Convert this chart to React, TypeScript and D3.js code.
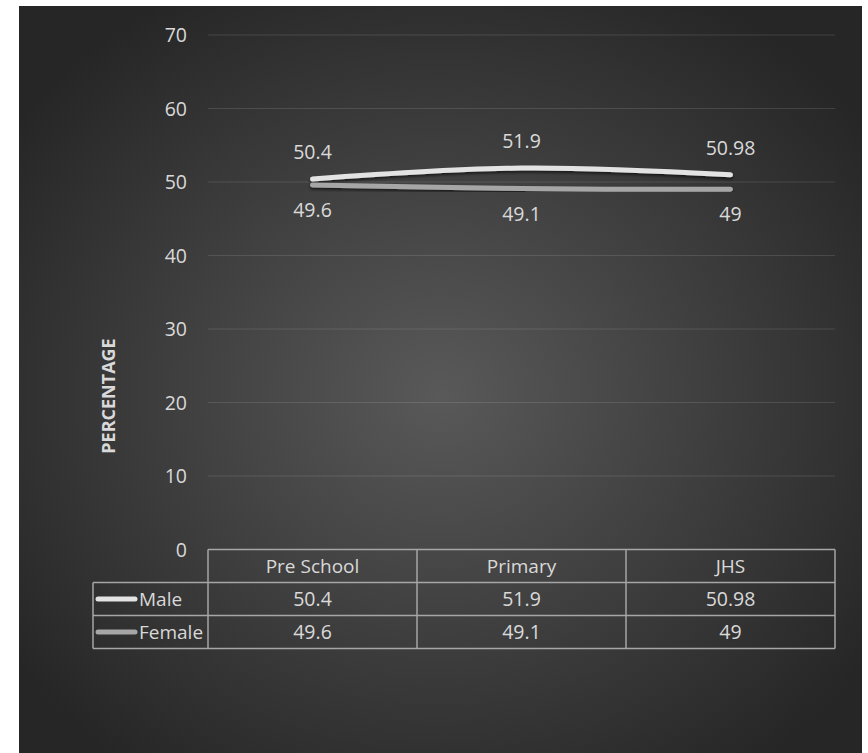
import React from "react";
import * as d3 from "d3";

const categories = ["Pre School", "Primary", "JHS"];
const maleValues = [50.4, 51.9, 50.98];
const femaleValues = [49.6, 49.1, 49];
const yTicks = [0, 10, 20, 30, 40, 50, 60, 70];
const seriesNames = ["Male", "Female"];
const seriesColors = ["#e3e3e3", "#a6a6a6"];

const W = 868;
const H = 753;
const plotL = 208;
const plotR = 835;
const plotT = 35;
const plotB = 549.5;
const rowH = 33;
const tableL = 93;
const font = "'Open Sans', sans-serif";
const textColor = "#d9d9d9";

export default function App() {
  const x = d3.scaleBand<string>().domain(categories).range([plotL, plotR]);
  const y = d3.scaleLinear().domain([0, 70]).range([plotB, plotT]);
  const line = d3
    .line<number>()
    .x((_, i) => (x(categories[i]) as number) + x.bandwidth() / 2)
    .y((d) => y(d))
    .curve(d3.curveCatmullRom.alpha(0.5));
  const series = [maleValues, femaleValues];
  const cx = (i: number) => (x(categories[i]) as number) + x.bandwidth() / 2;

  return (
    <svg
      width={W}
      height={H}
      style={{ position: "absolute", left: 0, top: 0, background: "#fff" }}
    >
      <defs>
        <radialGradient id="bg" cx="50%" cy="52%" r="62%">
          <stop offset="0%" stopColor="#595959" />
          <stop offset="100%" stopColor="#262626" />
        </radialGradient>
        <filter id="sh" x="-10%" y="-50%" width="120%" height="200%">
          <feDropShadow dx="0" dy="2" stdDeviation="1.5" floodColor="#000" floodOpacity="0.6" />
        </filter>
      </defs>
      <rect x={19} y={6} width={843} height={747} fill="url(#bg)" />

      {yTicks.map((t) => (
        <g key={t}>
          {t > 0 && (
            <line x1={plotL} x2={plotR} y1={y(t)} y2={y(t)} stroke="#d9d9d9" strokeOpacity={0.15} strokeWidth={1} />
          )}
          <text x={187} y={y(t)} dy="0.36em" textAnchor="end" fill={textColor} fontFamily={font} fontSize={19.5}>
            {t}
          </text>
        </g>
      ))}

      <text
        transform={`translate(115,396) rotate(-90)`}
        textAnchor="middle"
        fill={textColor}
        fontFamily={font}
        fontSize={18}
        fontWeight="bold"
      >
        PERCENTAGE
      </text>

      {series.map((vals, si) => (
        <path
          key={si}
          d={line(vals) as string}
          fill="none"
          stroke={seriesColors[si]}
          strokeWidth={5}
          strokeLinecap="round"
          filter="url(#sh)"
        />
      ))}

      {maleValues.map((v, i) => (
        <text key={"m" + i} x={cx(i)} y={y(v) - 20} textAnchor="middle" fill={textColor} fontFamily={font} fontSize={19.5}>
          {v}
        </text>
      ))}
      {femaleValues.map((v, i) => (
        <text key={"f" + i} x={cx(i)} y={y(v) + 32} textAnchor="middle" fill={textColor} fontFamily={font} fontSize={19.5}>
          {v}
        </text>
      ))}

      {/* data table */}
      <g stroke="#a6a6a6" strokeWidth={1.5} fill="none">
        <line x1={plotL} x2={plotR} y1={plotB} y2={plotB} />
        <line x1={tableL} x2={plotR} y1={plotB + rowH} y2={plotB + rowH} />
        <line x1={tableL} x2={plotR} y1={plotB + 2 * rowH} y2={plotB + 2 * rowH} />
        <line x1={tableL} x2={plotR} y1={plotB + 3 * rowH} y2={plotB + 3 * rowH} />
        <line x1={tableL} x2={tableL} y1={plotB + rowH} y2={plotB + 3 * rowH} />
        {categories.map((c) => (
          <line key={c} x1={x(c)} x2={x(c)} y1={plotB} y2={plotB + 3 * rowH} />
        ))}
        <line x1={plotR} x2={plotR} y1={plotB} y2={plotB + 3 * rowH} />
      </g>
      {categories.map((c, i) => (
        <text key={c} x={cx(i)} y={plotB + rowH / 2} dy="0.36em" textAnchor="middle" fill={textColor} fontFamily={font} fontSize={19}>
          {c}
        </text>
      ))}
      {series.map((vals, si) => (
        <g key={"row" + si}>
          <line
            x1={98}
            x2={135}
            y1={plotB + rowH * (si + 1.5)}
            y2={plotB + rowH * (si + 1.5)}
            stroke={seriesColors[si]}
            strokeWidth={5}
            strokeLinecap="round"
          />
          <text x={139} y={plotB + rowH * (si + 1.5)} dy="0.36em" fill={textColor} fontFamily={font} fontSize={19}>
            {seriesNames[si]}
          </text>
          {vals.map((v, i) => (
            <text key={i} x={cx(i)} y={plotB + rowH * (si + 1.5)} dy="0.36em" textAnchor="middle" fill={textColor} fontFamily={font} fontSize={19.5}>
              {v}
            </text>
          ))}
        </g>
      ))}
    </svg>
  );
}
